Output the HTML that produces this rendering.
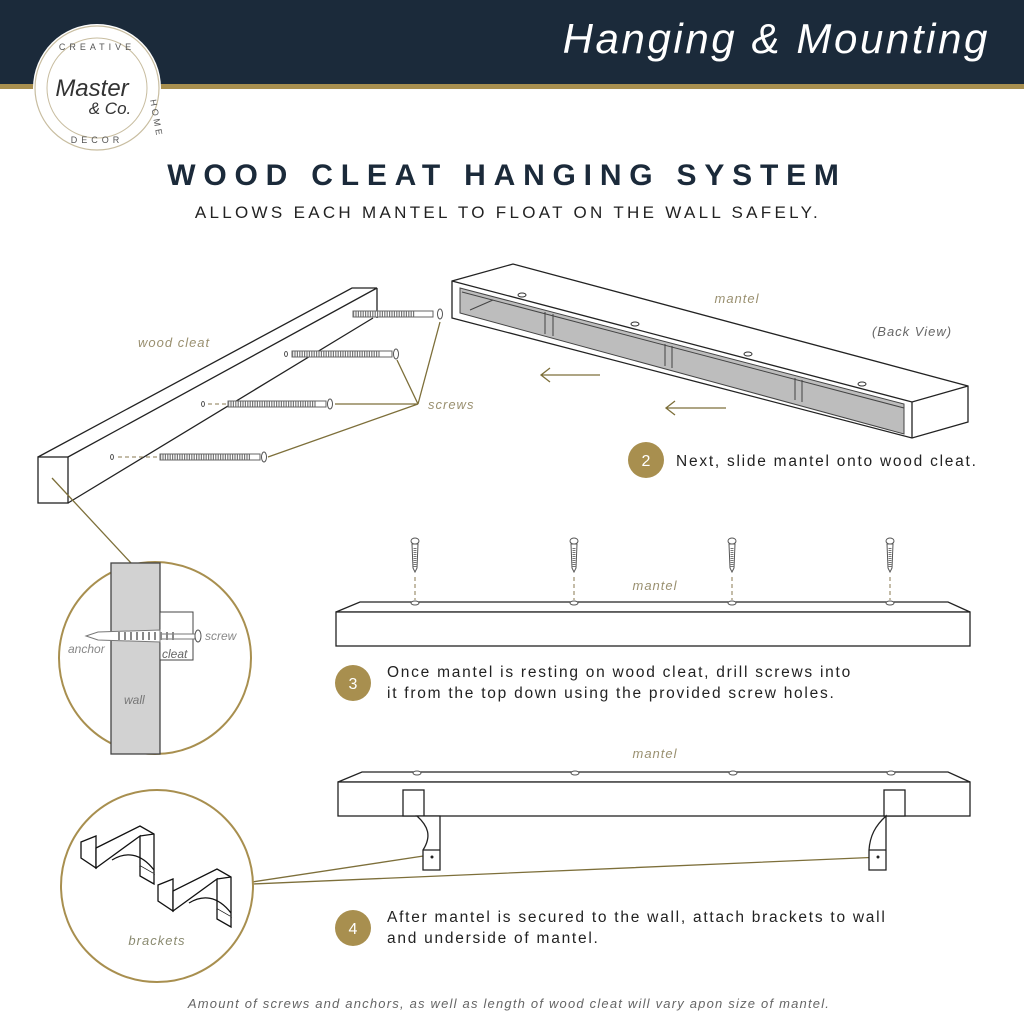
<!DOCTYPE html>
<html><head><meta charset="utf-8"><style>
html,body{margin:0;padding:0;background:#fff}
svg{display:block}
text{font-family:"Liberation Sans",sans-serif}
</style></head><body>
<svg width="1024" height="1012" viewBox="0 0 1024 1012" xmlns="http://www.w3.org/2000/svg">
<rect x="0" y="0" width="1024" height="84" fill="#1b2a3a"/>
<rect x="0" y="84" width="1024" height="5" fill="#a88f4f"/>
<text x="990" y="53" text-anchor="end" font-size="42" font-style="italic" fill="#fff" letter-spacing="2.6">Hanging &amp; Mounting</text>
<!-- logo -->
<circle cx="97" cy="88" r="64" fill="#fff"/>
<circle cx="97" cy="88" r="62" fill="none" stroke="#c8bda0" stroke-width="1.2"/>
<circle cx="97" cy="88" r="50" fill="none" stroke="#c8bda0" stroke-width="1"/>
<text x="97" y="50" text-anchor="middle" font-size="9" fill="#555" letter-spacing="4">CREATIVE</text>
<text x="92" y="96" text-anchor="middle" font-size="24" font-style="italic" font-family="Liberation Serif" fill="#333">Master</text>
<text x="110" y="114" text-anchor="middle" font-size="17" font-style="italic" font-family="Liberation Serif" fill="#333">&amp; Co.</text>
<text x="97" y="143" text-anchor="middle" font-size="9" fill="#555" letter-spacing="4">DECOR</text>
<text x="150" y="100" font-size="9" fill="#555" transform="rotate(80 150 100)" letter-spacing="3">HOME</text>

<text x="507" y="185" text-anchor="middle" font-size="30" font-weight="bold" fill="#1b2a3a" letter-spacing="7.8">WOOD CLEAT HANGING SYSTEM</text>
<text x="508" y="218" text-anchor="middle" font-size="17" fill="#222" letter-spacing="3.3">ALLOWS EACH MANTEL TO FLOAT ON THE WALL SAFELY.</text>

<g fill="none" stroke="#222" stroke-width="1.3">
<rect x="38" y="457" width="30" height="46" fill="#fff"/>
<path d="M38 457 L352 288 L377 288 L68 457 M377 288 L377 318 M68 503 L373 318"/>
</g>
<g stroke="#555" stroke-width="1">
<rect x="353" y="311" width="80" height="6" fill="#fff" stroke="#666"/>
<line x1="353" y1="314" x2="415" y2="314" stroke="#777" stroke-width="5" stroke-dasharray="1.2 1.2"/>
<ellipse cx="440" cy="314" rx="2.5" ry="5" fill="#fff"/>
<rect x="292" y="351" width="100" height="6" fill="#fff" stroke="#666"/>
<line x1="292" y1="354" x2="380" y2="354" stroke="#777" stroke-width="5" stroke-dasharray="1.2 1.2"/>
<ellipse cx="396" cy="354" rx="2.5" ry="5" fill="#fff"/>
<ellipse cx="286" cy="354" rx="1.5" ry="2.5" fill="#fff"/>
<rect x="228" y="401" width="98" height="6" fill="#fff" stroke="#666"/>
<line x1="228" y1="404" x2="316" y2="404" stroke="#777" stroke-width="5" stroke-dasharray="1.2 1.2"/>
<ellipse cx="330" cy="404" rx="2.5" ry="5" fill="#fff"/>
<ellipse cx="203" cy="404" rx="1.5" ry="2.5" fill="#fff"/>
<line x1="208" y1="404" x2="226" y2="404" stroke="#8a7a50" stroke-dasharray="4 3"/>
<rect x="160" y="454" width="100" height="6" fill="#fff" stroke="#666"/>
<line x1="160" y1="457" x2="250" y2="457" stroke="#777" stroke-width="5" stroke-dasharray="1.2 1.2"/>
<ellipse cx="264" cy="457" rx="2.5" ry="5" fill="#fff"/>
<ellipse cx="112" cy="457" rx="1.5" ry="2.5" fill="#fff"/>
<line x1="118" y1="457" x2="158" y2="457" stroke="#8a7a50" stroke-dasharray="4 3"/>
</g>
<g stroke="#7d6f3a" stroke-width="1.3" fill="none">
<path d="M440 322 L418 404 M397 360 L418 404 M335 404 L418 404 M268 457 L418 404"/>
<path d="M52 478 L131 563"/>
<path d="M252 882 L430 855 M252 884 L882 857"/>
<path d="M600 375 L542 375 M550 368 L541 375 L550 382 M726 408 L667 408 M675 401 L666 408 L675 415"/>
</g>
<text x="138" y="347" font-size="13" font-style="italic" fill="#9a9070" letter-spacing="1">wood cleat</text>
<text x="428" y="409" font-size="13" font-style="italic" fill="#9a9070" letter-spacing="1">screws</text>

<g stroke="#222" stroke-width="1.3" fill="#fff">
<path d="M452 281 L513 264 L968 386 L968 422 L912 438 L452 318 Z"/>
<path d="M452 281 L912 402 L968 386 M912 402 L912 438" fill="none"/>
<path d="M460 288 L904 404 L904 434 L460 313 Z" fill="#bdbdbd" stroke="#444" stroke-width="1"/>
<path d="M462 292 L904 408" fill="none" stroke="#444" stroke-width="1"/>
<path d="M493 300 L470 310 M545 312 L545 334 M553 314 L553 336 M665 344 L665 366 M672 346 L672 368 M795 378 L795 400 M802 380 L802 402" fill="none" stroke="#444" stroke-width="1"/>
</g>
<g fill="#fff" stroke="#333" stroke-width="1">
<ellipse cx="522" cy="295" rx="4" ry="2"/><ellipse cx="635" cy="324" rx="4" ry="2"/><ellipse cx="748" cy="354" rx="4" ry="2"/><ellipse cx="862" cy="384" rx="4" ry="2"/>
</g>
<text x="737" y="303" text-anchor="middle" font-size="13" font-style="italic" fill="#9a9070" letter-spacing="1">mantel</text>
<text x="912" y="336" text-anchor="middle" font-size="13" font-style="italic" fill="#666" letter-spacing="1">(Back View)</text>

<circle cx="646" cy="460" r="18" fill="#a88f4f"/>
<text x="646" y="466" text-anchor="middle" font-size="16" fill="#fff">2</text>
<text x="676" y="466" font-size="15.5" fill="#222" letter-spacing="1.75">Next, slide mantel onto wood cleat.</text>

<circle cx="155" cy="658" r="96" fill="#fff" stroke="#a88f4f" stroke-width="2"/>
<rect x="111" y="563" width="49" height="191" fill="#d2d2d2" stroke="#444" stroke-width="1.3"/>
<rect x="160" y="612" width="33" height="48" fill="#fff" stroke="#444"/>
<path d="M86 636 L98 632 L160 630 L160 642 L98 640 Z" fill="#fff" stroke="#777"/>
<path d="M160 634 L195 634 L195 639 L160 639" fill="#fff" stroke="#777"/>
<line x1="118" y1="636" x2="176" y2="636" stroke="#888" stroke-width="8" stroke-dasharray="2 4"/>
<ellipse cx="198" cy="636" rx="3" ry="6" fill="#fff" stroke="#555"/>
<text x="68" y="653" font-size="12" font-style="italic" fill="#888">anchor</text>
<text x="205" y="640" font-size="12" font-style="italic" fill="#888">screw</text>
<text x="162" y="658" font-size="12" font-style="italic" fill="#666">cleat</text>
<text x="124" y="704" font-size="12" font-style="italic" fill="#777">wall</text>

<g stroke="#222" stroke-width="1.3" fill="#fff">
<path d="M336 612 L360 602 L948 602 L970 612 Z"/>
<rect x="336" y="612" width="634" height="34"/>
</g>
<g stroke="#555" fill="#fff" stroke-width="1">
<ellipse cx="415" cy="603" rx="4" ry="2"/><ellipse cx="574" cy="603" rx="4" ry="2"/><ellipse cx="732" cy="603" rx="4" ry="2"/><ellipse cx="890" cy="603" rx="4" ry="2"/>
</g>
<g stroke="#8a7a50" stroke-dasharray="4 3" stroke-width="1">
<path d="M415 577 V600 M574 577 V600 M732 577 V600 M890 577 V600"/>
</g>
<g fill="#fff" stroke="#555" stroke-width="1">
<g id="vs"><ellipse cx="415" cy="541" rx="4" ry="3"/><path d="M412 544 L418 544 L417 568 L415 572 L413 568 Z"/><line x1="415" y1="548" x2="415" y2="568" stroke="#777" stroke-width="3" stroke-dasharray="1 1"/></g>
<use href="#vs" x="159"/><use href="#vs" x="317"/><use href="#vs" x="475"/>
</g>
<text x="655" y="590" text-anchor="middle" font-size="13" font-style="italic" fill="#9a9070" letter-spacing="1">mantel</text>
<circle cx="353" cy="683" r="18" fill="#a88f4f"/>
<text x="353" y="689" text-anchor="middle" font-size="16" fill="#fff">3</text>
<text x="387" y="677" font-size="15.5" fill="#222" letter-spacing="1.75">Once mantel is resting on wood cleat, drill screws into</text>
<text x="387" y="698" font-size="15.5" fill="#222" letter-spacing="1.75">it from the top down using the provided screw holes.</text>

<text x="655" y="758" text-anchor="middle" font-size="13" font-style="italic" fill="#9a9070" letter-spacing="1">mantel</text>
<g stroke="#222" stroke-width="1.3" fill="#fff">
<path d="M338 782 L362 772 L948 772 L970 782 Z"/>
<rect x="338" y="782" width="632" height="34"/>
<rect x="403" y="790" width="21" height="26"/>
<rect x="884" y="790" width="21" height="26"/>
<path d="M417 816 C428 826 432 836 423 850 L423 870 L440 870 L440 816 Z"/>
<path d="M423 850 L440 850"/>
<path d="M886 816 C875 826 870 836 869 850 L869 870 L886 870 L886 816 Z"/>
<path d="M869 850 L886 850"/>
</g>
<g fill="#222"><circle cx="432" cy="857" r="1.5"/><circle cx="878" cy="857" r="1.5"/></g>
<g stroke="#555" fill="#fff" stroke-width="1">
<ellipse cx="417" cy="773" rx="4" ry="2"/><ellipse cx="575" cy="773" rx="4" ry="2"/><ellipse cx="733" cy="773" rx="4" ry="2"/><ellipse cx="891" cy="773" rx="4" ry="2"/>
</g>

<circle cx="157" cy="886" r="96" fill="#fff" stroke="#a88f4f" stroke-width="2"/>
<g stroke="#111" stroke-width="1.3" fill="#fff">
<g id="br">
<path d="M81 842 L96 836 L96 868 L81 858 Z"/>
<path d="M96 848 L140 826 L154 834 L154 874 L140 866 L140 836 L96 868 Z"/>
<path d="M140 836 L154 834"/>
<path d="M112 860 C125 852 140 852 154 870" fill="none"/>
<path d="M140 866 L140 876 L154 884 L154 874" />
</g>
<use href="#br" x="77" y="43"/>
</g>
<text x="157" y="945" text-anchor="middle" font-size="13" font-style="italic" fill="#8a8a70" letter-spacing="1">brackets</text>

<circle cx="353" cy="928" r="18" fill="#a88f4f"/>
<text x="353" y="934" text-anchor="middle" font-size="16" fill="#fff">4</text>
<text x="387" y="922" font-size="15.5" fill="#222" letter-spacing="1.75">After mantel is secured to the wall, attach brackets to wall</text>
<text x="387" y="943" font-size="15.5" fill="#222" letter-spacing="1.75">and underside of mantel.</text>

<text x="509" y="1008" text-anchor="middle" font-size="13" font-style="italic" fill="#666" letter-spacing="1.2">Amount of screws and anchors, as well as length of wood cleat will vary apon size of mantel.</text>
</svg>
</body></html>
